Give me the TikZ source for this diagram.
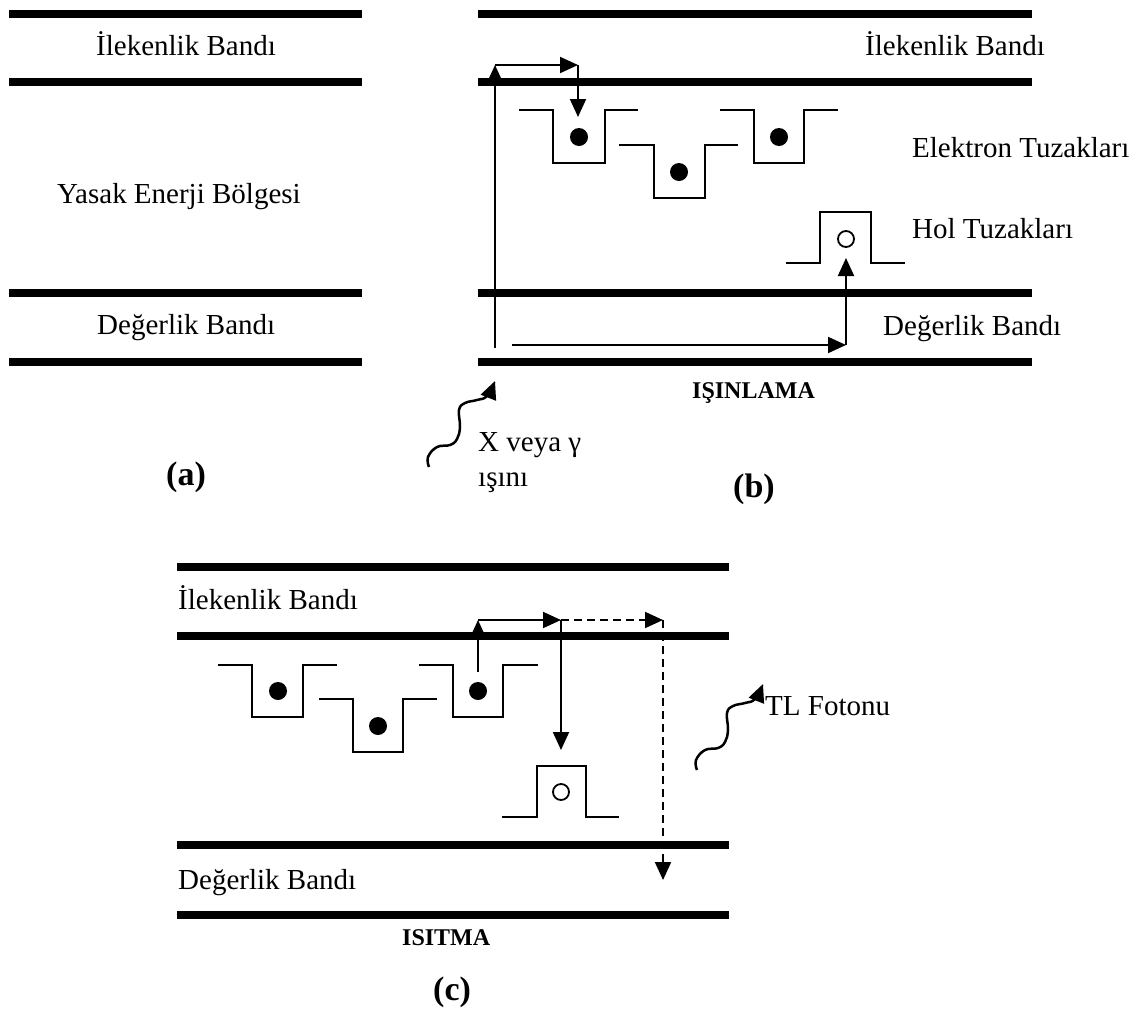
\documentclass[tikz,border=0pt]{standalone}
\usepackage{fontspec}
\setmainfont{Liberation Serif}
\usetikzlibrary{arrows.meta,calc}
\begin{document}
\begin{tikzpicture}[x=1pt,y=-1pt,
  band/.style={line width=8pt},
  trap/.style={line width=2.5pt, line join=miter},
  arr/.style={line width=2pt, -{Triangle[length=18pt,width=16pt]}},
  darr/.style={arr, dash pattern=on 8pt off 5pt},
  wave/.style={line width=2.5pt, -{Triangle[length=18pt,width=16pt]}},
  lbl/.style={anchor=base west, inner sep=0pt, font=\fontsize{29}{34}\selectfont},
  blbl/.style={anchor=base west, inner sep=0pt, font=\fontsize{24}{28}\selectfont\bfseries},
  plbl/.style={anchor=base west, inner sep=0pt, font=\fontsize{34}{40}\selectfont\bfseries},
  edot/.style={circle, fill=black, inner sep=0pt, minimum size=18pt},
  hdot/.style={circle, draw=black, line width=1.8pt, fill=white, inner sep=0pt, minimum size=16pt}]
\useasboundingbox (0,0) rectangle (1145,1015);

% ---------- panel (a)
\foreach \yy in {14,82,293,362} \draw[band] (9,\yy) -- (362,\yy);
\node[lbl] (a1) at (96,55) {İlekenlik Bandı};
\node[lbl] (a2) at (57,203) {Yasak Enerji Bölgesi};
\node[lbl] (a3) at (97,334) {Değerlik Bandı};
\node[plbl] (pa) at (166,485) {(a)};

% ---------- panel (b)
\foreach \yy in {14,82,293,362} \draw[band] (478,\yy) -- (1032,\yy);
\node[lbl] (b1t) at (865,55) {İlekenlik Bandı};
\node[lbl] (b2t) at (912,157) {Elektron Tuzakları};
\node[lbl] (b3t) at (912,238) {Hol Tuzakları};
\node[lbl] (b4t) at (883,335) {Değerlik Bandı};
\node[blbl] (b5t) at (692,398) {IŞINLAMA};
\node[lbl] (b6t) at (478,451) {X veya γ};
\node[lbl] (b7t) at (478,486) {ışını};
\node[plbl] (pb) at (733,497) {(b)};

% electron traps (b)
\draw[trap] (519,110) -- (553,110) -- (553,163) -- (605,163) -- (605,110) -- (638,110);
\draw[trap] (619,145) -- (654,145) -- (654,198) -- (705,198) -- (705,145) -- (738,145);
\draw[trap] (720,110) -- (754,110) -- (754,163) -- (804,163) -- (804,110) -- (838,110);
\node[edot] (be1) at (579,137) {};
\node[edot] (be2) at (679,172) {};
\node[edot] (be3) at (779,137) {};
% hole trap (b)
\draw[trap] (786,263) -- (820,263) -- (820,212) -- (871,212) -- (871,263) -- (905,263);
\node[hdot] (bh) at (846,239) {};

% arrows (b)
\coordinate (bA) at (495,348);
\coordinate (bB) at (495,65);
\coordinate (bC) at (578,65);
\coordinate (bD) at (578,117);
\draw[arr] (bA) -- (bB);
\draw[arr] (bB) -- (bC);
\draw[arr] (bC) -- (bD);
\coordinate (bE) at (512,345);
\coordinate (bF) at (846,345);
\coordinate (bG) at (846,258);
\draw[arr] (bE) -- (bF);
\draw[arr] (bF) -- (bG);

% wavy arrow (b)
\coordinate (wb) at (429,467);
\draw[wave] plot[smooth, tension=0.7] coordinates {(wb) ($(wb)+(-1,-10)$) ($(wb)+(8,-20)$) ($(wb)+(21,-22)$) ($(wb)+(28,-28)$) ($(wb)+(31,-40)$) ($(wb)+(30,-57)$) ($(wb)+(36,-64)$) ($(wb)+(48,-67)$) ($(wb)+(58,-71)$) ($(wb)+(66,-86)$)};

% ---------- panel (c)
\foreach \yy in {567,636,845,915} \draw[band] (177,\yy) -- (729,\yy);
\node[lbl] (c1t) at (178,609) {İlekenlik Bandı};
\node[lbl] (c2t) at (178,889) {Değerlik Bandı};
\node[blbl] (c3t) at (402,945) {ISITMA};
\node[plbl] (pc) at (433,1000) {(c)};
\node[lbl] (c4t) at (765,715) {TL Fotonu};

% electron traps (c)
\draw[trap] (218,665) -- (252,665) -- (252,717) -- (303,717) -- (303,665) -- (337,665);
\draw[trap] (319,699) -- (353,699) -- (353,752) -- (403,752) -- (403,699) -- (437,699);
\draw[trap] (419,665) -- (453,665) -- (453,717) -- (503,717) -- (503,665) -- (538,665);
\node[edot] (ce1) at (278,691) {};
\node[edot] (ce2) at (378,726) {};
\node[edot] (ce3) at (478,691) {};
% hole trap (c)
\draw[trap] (502,817) -- (537,817) -- (537,766) -- (586,766) -- (586,817) -- (619,817);
\node[hdot] (ch) at (561,792) {};

% arrows (c)
\coordinate (cA) at (478,672);
\coordinate (cB) at (478,620);
\coordinate (cC) at (561,620);
\coordinate (cD) at (561,750);
\coordinate (cE) at (663,620);
\coordinate (cF) at (663,880);
\draw[arr] (cA) -- (cB);
\draw[arr] (cB) -- (cC);
\draw[arr] (cC) -- (cD);
\draw[darr] (cC) -- (cE);
\draw[darr] (cE) -- (cF);

% wavy arrow (c)
\coordinate (wc) at (697,770);
\draw[wave] plot[smooth, tension=0.7] coordinates {(wc) ($(wc)+(-1,-10)$) ($(wc)+(8,-20)$) ($(wc)+(21,-22)$) ($(wc)+(28,-28)$) ($(wc)+(31,-40)$) ($(wc)+(30,-57)$) ($(wc)+(36,-64)$) ($(wc)+(48,-67)$) ($(wc)+(58,-71)$) ($(wc)+(66,-86)$)};
\end{tikzpicture}
\end{document}
